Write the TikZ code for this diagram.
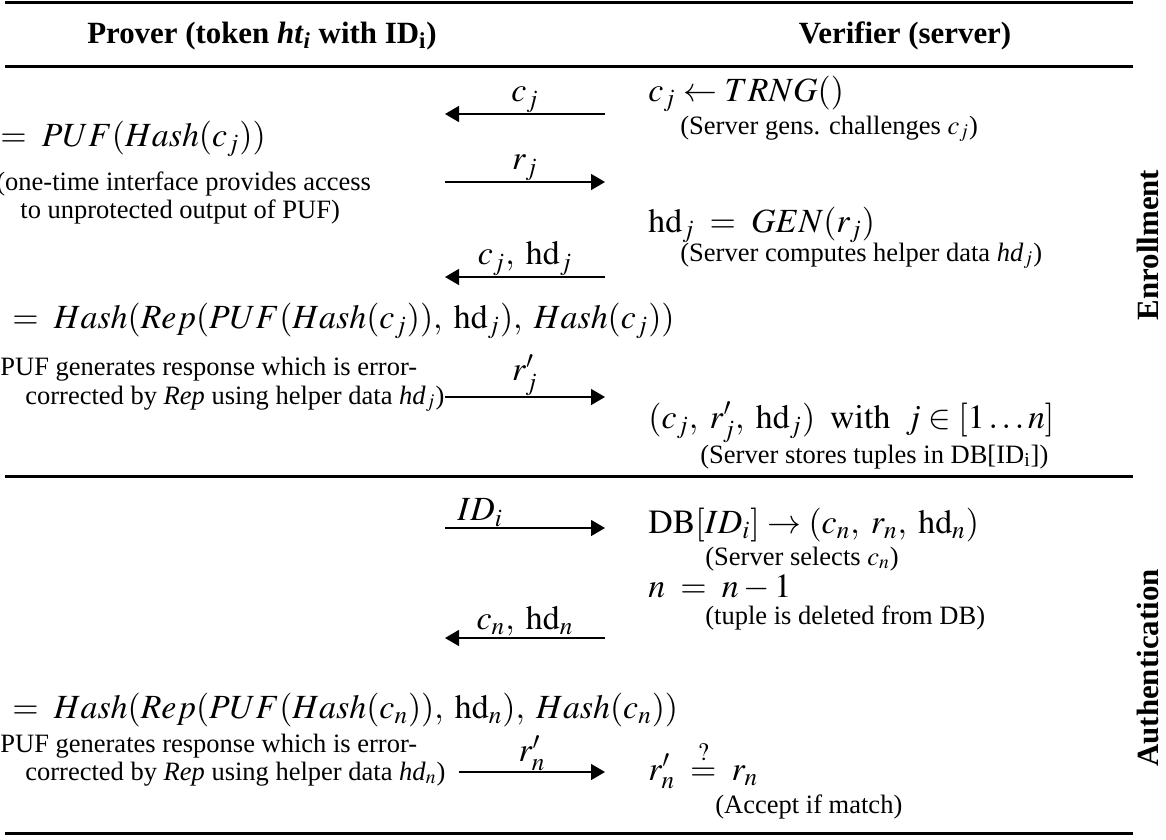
\documentclass[tikz,border=0pt]{standalone}
\usepackage{amsmath}
\usepackage{mathptmx}
\usepackage{fontspec}
\setmainfont{Liberation Serif}
\usetikzlibrary{arrows.meta,positioning}
\tikzset{
 proto/.style={x=.5bp,y=-.5bp,line cap=butt},
 rule/.style={line width=1.5bp},
 colhead/.style={font=\fontsize{15.5}{18}\selectfont\bfseries,anchor=base,inner sep=0pt},
 phase/.style={font=\fontsize{15.5}{18}\selectfont\bfseries,rotate=90,inner sep=0pt},
 comp/.style={font=\fontsize{17}{20}\selectfont,anchor=base west,inner sep=0pt},
 note/.style={font=\fontsize{13.3}{15}\selectfont,anchor=base west,inner sep=0pt},
 msg/.style={line width=.7bp,-{Triangle[length=7bp,width=8bp]}},
 msgtext/.style={font=\fontsize{17}{20}\selectfont,above=.5bp,inner sep=0pt}
}
\newcommand{\hd}{\mathrm{hd}}

\begin{document}
\begin{tikzpicture}[proto]
 \useasboundingbox (0,0) rectangle (1166,839);
 % table rules
 \draw[rule] (5,2) -- (1133,2);
 \draw[rule] (5,66) -- (1133,66);
 \draw[rule] (5,476) -- (1133,476);
 \draw[rule] (5,833) -- (1133,833);
 \node[colhead] (hdrP) at (262,43) {Prover (token \textit{ht}$_{\textit{i}}$ with ID$_{\text{i}}$)};
 \node[colhead] (hdrV) at (905,43) {Verifier (server)};
 \node[phase] (enrol) at (1148,245) {Enrollment};
 \node[phase] (auth) at (1148,668) {Authentication};
 % message ends: prover side / verifier side
 \foreach \k/\x/\y in {1/445/114,2/445/182,3/445/277,4/445/397,5/445/528,6/445/638,7/459/772}{
   \coordinate (m\k p) at (\x,\y);
   \coordinate (m\k v) at (605,\y);}
 % enrollment
 \node[comp] (srvGen) at (648,101) {$c_{j}\leftarrow TRNG()$};
 \node[note] (srvGenN) at (680,134) {(Server gens. challenges $c_{j}$)};
 \draw[msg] (m1v) -- node[msgtext] (l1) {$c_{j}$} (m1p);
 \node[comp] (prvResp) at (0,146) {$=\;PUF(Hash(c_{j}))$};
 \draw[msg] (m2p) -- node[msgtext] (l2) {$r_{j}$} (m2v);
 \node[note] (prvOut) at (-4,190) {(one-time interface provides access};
 \node[note] (prvOut2) at (20,218) {to unprotected output of PUF)};
 \node[comp] (srvHd) at (648,232) {$\hd_{j}\;=\;GEN(r_{j})$};
 \node[note] (srvHdN) at (680,261) {(Server computes helper data \textit{hd}$_{j}$)};
 \draw[msg] (m3v) -- node[msgtext] (l3) {$c_{j},\;\hd_{j}$} (m3p);
 \node[comp] (prvKey) at (12,328) {$=\;Hash(Rep(PUF(Hash(c_{j})),\;\hd_{j}),\;Hash(c_{j}))$};
 \node[note] (prvRep) at (0,375) {PUF generates response which is error-};
 \node[note] (prvRep2) at (25,404) {corrected by \textit{Rep} using helper data \textit{hd}$_{j}$)};
 \draw[msg] (m4p) -- node[msgtext] (l4) {$r'_{j}$} (m4v);
 \node[comp] (srvStore) at (648,428) {$(c_{j},\;r'_{j},\;\hd_{j})\;\;\mathrm{with}\;\;j\in[1\ldots n]$};
 \node[note] (srvStoreN) at (700,463) {(Server stores tuples in DB[ID$_{\text{i}}$])};
 % authentication
 \draw[msg] (m5p) -- node[msgtext,pos=.22] (l5) {$ID_{i}$} (m5v);
 \node[comp] (srvSel) at (648,533) {$\mathrm{DB}[ID_{i}]\rightarrow(c_{n},\;r_{n},\;\hd_{n})$};
 \node[note] (srvSelN) at (705,565) {(Server selects $c_{n}$)};
 \node[comp] (srvDec) at (648,597) {$n\;=\;n-1$};
 \node[note] (srvDecN) at (705,624) {(tuple is deleted from DB)};
 \draw[msg] (m6v) -- node[msgtext] (l6) {$c_{n},\;\hd_{n}$} (m6p);
 \node[comp] (prvKey2) at (12,718) {$=\;Hash(Rep(PUF(Hash(c_{n})),\;\hd_{n}),\;Hash(c_{n}))$};
 \node[note] (prvRep3) at (0,752) {PUF generates response which is error-};
 \node[note] (prvRep4) at (25,780) {corrected by \textit{Rep} using helper data \textit{hd}$_{n}$)};
 \draw[msg] (m7p) -- node[msgtext] (l7) {$r'_{n}$} (m7v);
 \node[comp] (srvCmp) at (648,780) {$r'_{n}\;\stackrel{?}{=}\;r_{n}$};
 \node[note] (srvCmpN) at (715,813) {(Accept if match)};
\end{tikzpicture}
\end{document}
